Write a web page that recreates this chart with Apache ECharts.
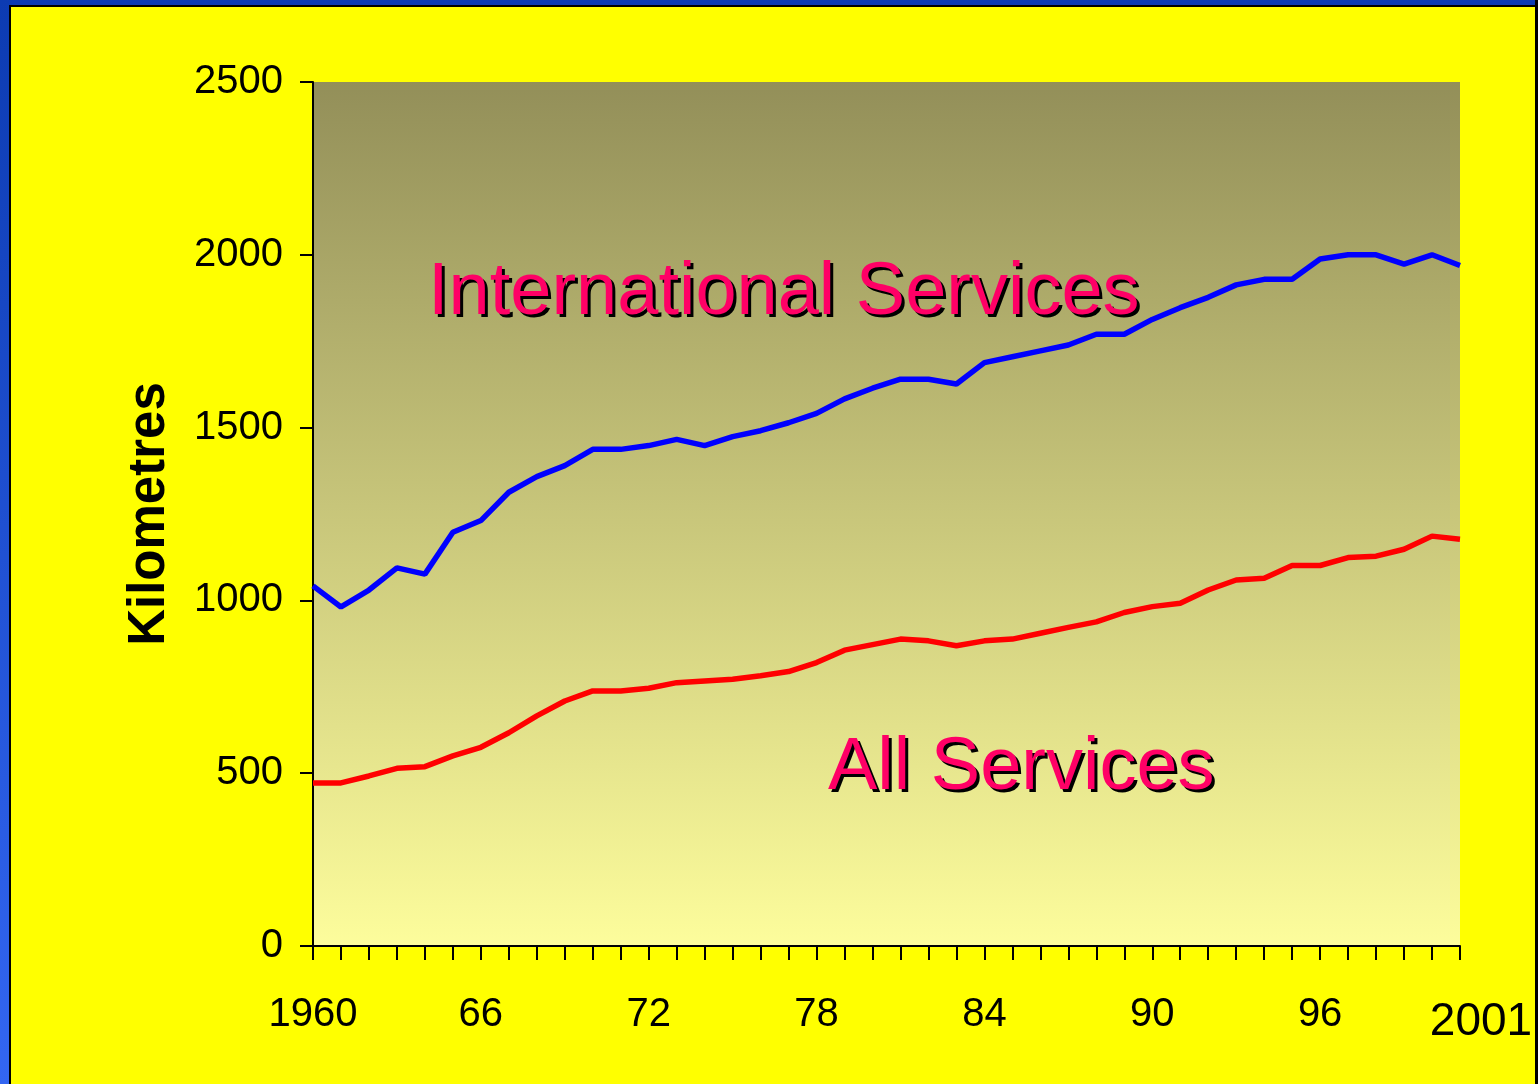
<!DOCTYPE html>
<html>
<head>
<meta charset="utf-8">
<style>
html,body{margin:0;padding:0;background:#0e3eb4;}
#chart{width:1538px;height:1084px;}
</style>
<script src="https://cdn.jsdelivr.net/npm/echarts@6/dist/echarts.min.js"></script>
</head>
<body>
<div id="chart"></div>
<script>
// Years 1960..2001
const years = [];
for (let y = 1960; y <= 2001; y++) years.push(String(y));

// Tick labels shown on the x axis (by year)
const xTickLabels = {"1960":"1960","1966":"66","1972":"72","1978":"78","1984":"84","1990":"90","1996":"96","2001":"2001"};

// Average distance, International Services (km)
const internationalServices = [
  1042, 981, 1030, 1094, 1076, 1197, 1231, 1313, 1358, 1390,
  1437, 1437, 1448, 1466, 1448, 1474, 1491, 1514, 1541, 1583,
  1614, 1640, 1640, 1626, 1688, 1705, 1722, 1739, 1770, 1770,
  1813, 1847, 1877, 1913, 1929, 1929, 1988, 2000, 2000, 1973,
  2000, 1969
];

// Average distance, All Services (km)
const allServices = [
  472, 472, 492, 514, 519, 550, 575, 617, 666, 709,
  738, 738, 746, 762, 767, 772, 782, 794, 820, 856,
  872, 888, 883, 869, 883, 888, 905, 922, 938, 965,
  982, 992, 1030, 1059, 1064, 1101, 1101, 1124, 1128, 1148,
  1186, 1177
];

const yTicks = [0, 500, 1000, 1500, 2000, 2500];

const FONT = '"Liberation Sans", Arial, sans-serif';

const xData = years.map(function (y) {
  if (y === '2001') {
    return { value: y, textStyle: { fontSize: 46, padding: [4, 0, 0, 42] } };
  }
  return y;
});

function annotation(text, left, top) {
  // black drop shadow copy + pink text
  return [
    {
      type: 'text', z: 99, left: left + 3, top: top + 3,
      style: { text: text, font: '74px ' + FONT, fill: '#000' }
    },
    {
      type: 'text', z: 100, left: left, top: top,
      style: { text: text, font: '74px ' + FONT, fill: '#ff0066' }
    }
  ];
}

const chart = echarts.init(document.getElementById('chart'), null, { renderer: 'canvas' });

const option = {
  backgroundColor: {
    type: 'linear', x: 0, y: 0, x2: 0, y2: 1,
    colorStops: [{ offset: 0, color: '#0c3bb2' }, { offset: 1, color: '#3366f2' }]
  },
  animation: false,
  graphic: [
    {
      type: 'rect', z: -100,
      shape: { x: 10, y: 6, width: 1526, height: 1090 },
      style: { fill: '#ffff00', stroke: '#000', lineWidth: 2 }
    }
  ].concat(
    annotation('International Services', 428, 257),
    annotation('All Services', 828, 732),
    [{
      type: 'rect', z: 200,
      shape: { x: 1535, y: 0, width: 3, height: 1084 },
      style: { fill: '#000' }
    }]
  ),
  grid: {
    left: 313, right: 78, top: 82, bottom: 138,
    show: true, borderWidth: 0,
    backgroundColor: {
      type: 'linear', x: 0, y: 0, x2: 0, y2: 1,
      colorStops: [{ offset: 0, color: '#938f59' }, { offset: 1, color: '#fdfd9c' }]
    }
  },
  xAxis: {
    type: 'category',
    data: xData,
    boundaryGap: false,
    axisLine: { show: true, lineStyle: { color: '#000', width: 2 } },
    axisTick: { show: true, interval: 0, length: 14, lineStyle: { color: '#000', width: 2 } },
    axisLabel: {
      interval: function (i, v) { return xTickLabels[v] !== undefined; },
      formatter: function (v) { return xTickLabels[v] || ''; },
      color: '#000', fontSize: 40, fontFamily: FONT, margin: 49
    },
    splitLine: { show: false }
  },
  yAxis: {
    type: 'value',
    min: 0, max: 2500, interval: 500,
    name: 'Kilometres',
    nameLocation: 'middle',
    nameGap: 138,
    nameRotate: 90,
    nameTextStyle: { color: '#000', fontSize: 51, fontWeight: 'bold', fontFamily: FONT },
    axisLine: { show: true, lineStyle: { color: '#000', width: 2 } },
    axisTick: { show: true, length: 13, lineStyle: { color: '#000', width: 2 } },
    axisLabel: {
      color: '#000', fontSize: 40, fontFamily: FONT, margin: 30,
      formatter: function (v) { return yTicks.indexOf(v) >= 0 ? String(v) : ''; }
    },
    splitLine: { show: false }
  },
  series: [
    {
      name: 'International Services', type: 'line', data: internationalServices,
      showSymbol: false, symbol: 'none',
      lineStyle: { color: '#0000ff', width: 5.5 }, z: 3
    },
    {
      name: 'All Services', type: 'line', data: allServices,
      showSymbol: false, symbol: 'none',
      lineStyle: { color: '#ff0000', width: 5.5 }, z: 3
    }
  ]
};

chart.setOption(option);
</script>
</body>
</html>
